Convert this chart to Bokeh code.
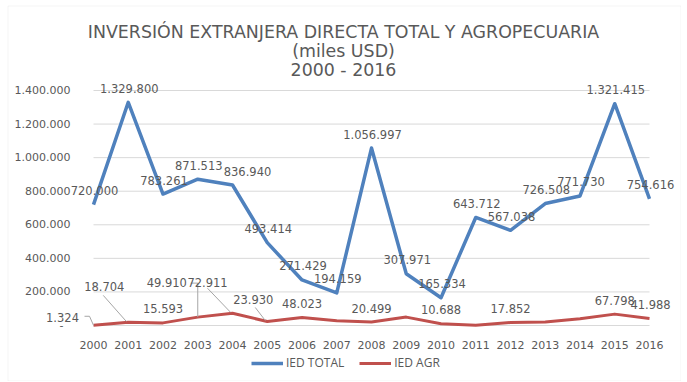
from bokeh.plotting import figure
from bokeh.models import (Range1d, FixedTicker, ColumnDataSource, LabelSet, Label,
                          Legend, LegendItem, BoxAnnotation)
from bokeh.core.properties import value
from bokeh.embed import file_html
from bokeh.resources import INLINE

# ---------------- data ----------------
years = list(range(2000, 2017))
ied_total = [720000, 1329800, 783261, 871513, 836940, 493414, 271429, 194159,
             1056997, 307971, 165334, 643712, 567038, 726508, 771730, 1321415, 754616]
ied_agr = [1324, 18704, 15593, 49910, 72911, 23930, 48023, 28000,
           20499, 50000, 10688, 2000, 17852, 21000, 40000, 67798, 41988]
agr_labeled = [2000, 2001, 2002, 2003, 2004, 2005, 2006, 2008, 2010, 2012, 2015, 2016]
y_ticks = [0, 200000, 400000, 600000, 800000, 1000000, 1200000, 1400000]
title_lines = ["INVERSIÓN EXTRANJERA DIRECTA TOTAL Y AGROPECUARIA", "(miles USD)", "2000 - 2016"]
series_names = ["IED TOTAL", "IED AGR"]


def fmt(v):
    return "{:,}".format(v).replace(",", ".")


# ---------------- style ----------------
GRAY = "#595959"
BLUE = "#4f81bd"
RED = "#c0504d"
NUM_FONT = value("DejaVu Sans")
W, H = 681, 381
# plot area (x first..last year, y 0..top tick) inside the canvas, in px
PL, PR, PT, PB = 93, 649, 90, 325
px_x = (years[-1] - years[0]) / (PR - PL)          # data per px
px_y = (y_ticks[-1] - y_ticks[0]) / (PB - PT)
x_rng = Range1d(years[0] - PL * px_x, years[-1] + (W - PR) * px_x)
y_rng = Range1d(y_ticks[0] - (H - PB) * px_y, y_ticks[-1] + PT * px_y)

p = figure(width=W, height=H, output_backend="svg", toolbar_location=None, tools="",
           x_range=x_rng, y_range=y_rng,
           min_border_left=0, min_border_right=0, min_border_top=0, min_border_bottom=0)
p.outline_line_color = None
p.background_fill_color = "white"
p.border_fill_color = "white"
p.xgrid.grid_line_color = None
p.ygrid.grid_line_color = None

# chart border
p.add_layout(BoxAnnotation(left=7.5, right=680.5, top=H - 5.5, bottom=H - 380.5,
                           left_units="screen", right_units="screen",
                           top_units="screen", bottom_units="screen",
                           fill_alpha=0, line_color="#d9d9d9", line_width=1))

# gridlines only across the plot area
p.segment(x0=[years[0]] * len(y_ticks), x1=[years[-1]] * len(y_ticks), y0=y_ticks, y1=y_ticks,
          line_color="#d9d9d9", line_width=1)

p.yaxis.ticker = FixedTicker(ticks=y_ticks)
p.yaxis.major_label_overrides = {t: (fmt(t) if t else "-  ") for t in y_ticks}
p.yaxis.fixed_location = years[0]
p.xaxis.ticker = FixedTicker(ticks=years)
p.xaxis.major_label_overrides = {y: str(y) for y in years}
p.xaxis.fixed_location = 0
for ax in (p.xaxis[0], p.yaxis[0]):
    ax.axis_line_color = None
    ax.major_tick_line_color = None
    ax.minor_tick_line_color = None
    ax.major_label_text_color = GRAY
    ax.major_label_text_font = "DejaVu Sans"
    ax.major_label_text_font_size = "11px"
p.yaxis.major_label_standoff = 17
p.xaxis.major_label_standoff = 9

# ---------------- lines ----------------
r_tot = p.line(years, ied_total, line_color=BLUE, line_width=3.5, line_join="round")
r_agr = p.line(years, ied_agr, line_color=RED, line_width=3, line_join="round")

# ---------------- data labels ----------------
tot_dx = [1] * len(years)
tot_dx[years.index(2004)] = 15
src_tot = ColumnDataSource(dict(x=years, y=ied_total, t=[fmt(v) for v in ied_total],
                                dx=tot_dx, dy=[14] * len(years)))
p.add_layout(LabelSet(x="x", y="y", text="t", x_offset="dx", y_offset="dy", source=src_tot,
                      text_align="center", text_baseline="middle", text_color=GRAY,
                      text_font=NUM_FONT, text_font_size="11.5px"))

agr_off = {2000: (-31, 8), 2001: (-24, 36), 2003: (-31, 35), 2004: (-25, 31), 2005: (-14, 22),
           2016: (1, 14)}
ax_, ay_, at_, adx, ady = [], [], [], [], []
for yr in agr_labeled:
    v = ied_agr[years.index(yr)]
    dx, dy = agr_off.get(yr, (0, 14))
    ax_.append(yr); ay_.append(v); at_.append(fmt(v)); adx.append(dx); ady.append(dy)
src_agr = ColumnDataSource(dict(x=ax_, y=ay_, t=at_, dx=adx, dy=ady))
p.add_layout(LabelSet(x="x", y="y", text="t", x_offset="dx", y_offset="dy", source=src_agr,
                      text_align="center", text_baseline="middle", text_color=GRAY,
                      text_font=NUM_FONT, text_font_size="11.5px"))

# leader lines (pixel offsets from the point, y up)
leaders = {2000: [(-9, 9), (-4, 9), (0, 0)],
           2001: [(-25, 27), (-2, 1)],
           2003: [(-7, 34), (0, 34), (0, 0)],
           2004: [(-25, 25), (-2, 1)],
           2005: [(-12, 14), (-2, 1)]}
lx, ly = [], []
for yr, pts in leaders.items():
    v = ied_agr[years.index(yr)]
    lx.append([yr + a * px_x for a, b in pts])
    ly.append([v + b * px_y for a, b in pts])
p.multi_line(lx, ly, line_color="#a6a6a6", line_width=1)

# ---------------- title ----------------
title_base = [31, 50, 69]        # baselines, px from top
for txt, tb in zip(title_lines, title_base):
    p.add_layout(Label(x=343, y=H - tb, x_units="screen", y_units="screen", text=txt,
                       text_align="center", text_baseline="alphabetic", text_color=GRAY,
                       text_font="DejaVu Sans", text_font_size="17.4px"))

# ---------------- legend ----------------
legend = Legend(items=[LegendItem(label=series_names[0], renderers=[r_tot]),
                       LegendItem(label=series_names[1], renderers=[r_agr])],
                location=(251, H - 363 - 8), orientation="horizontal",
                border_line_color=None, background_fill_alpha=0, padding=0, margin=0,
                spacing=15, glyph_width=32, glyph_height=16, label_standoff=3,
                label_text_font="Open Sans", label_text_font_size="12px",
                label_text_color=GRAY)
p.add_layout(legend, "center")

open("out.html", "w").write(file_html(p, INLINE))
